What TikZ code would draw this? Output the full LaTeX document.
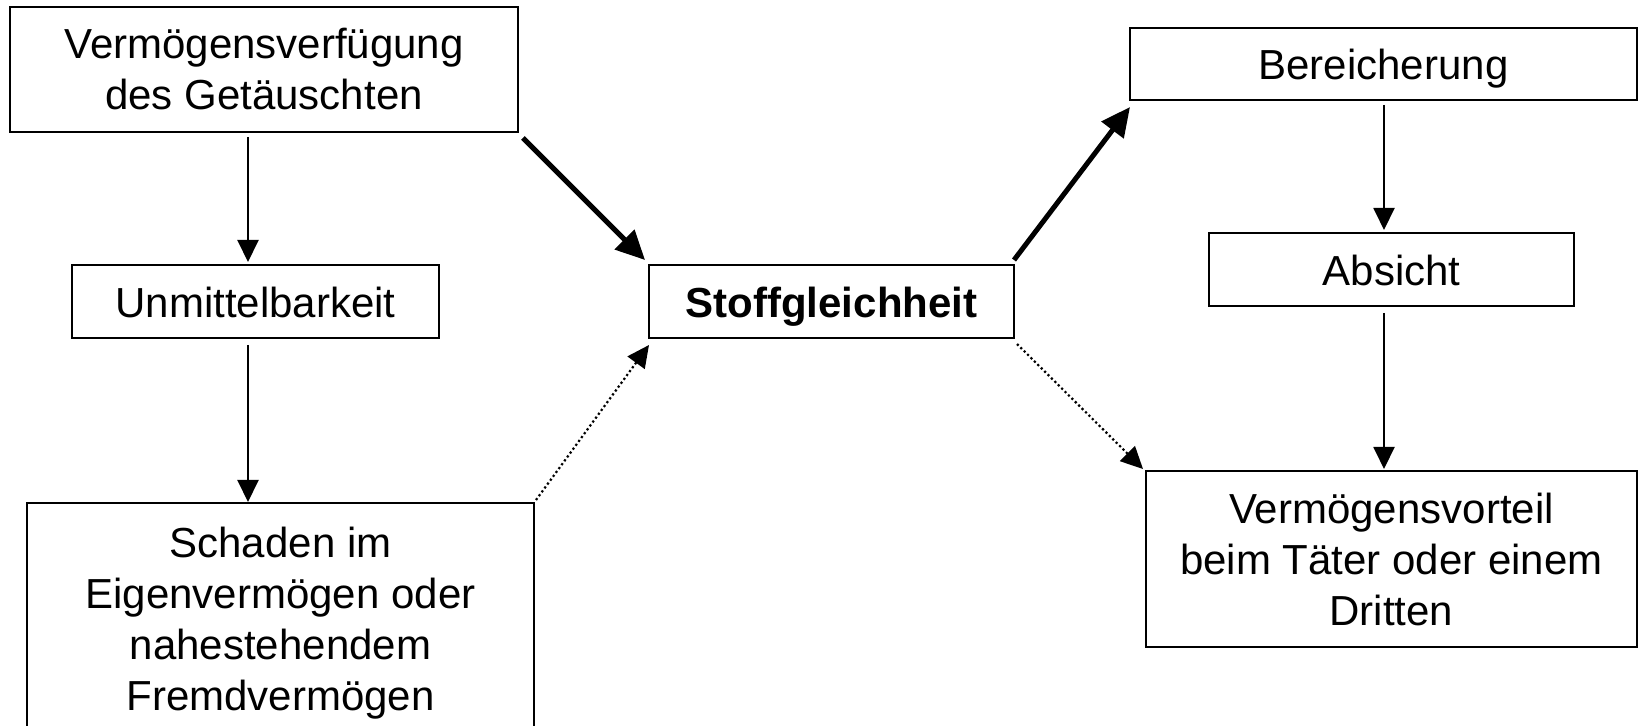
\documentclass[tikz,border=0pt]{standalone}
\usepackage{fontspec}
\setmainfont{Liberation Sans}
\usetikzlibrary{arrows.meta}

\tikzset{
  box/.style={draw, rectangle, line width=1pt, inner sep=0pt, outer sep=0pt,
    align=center, font=\fontsize{21}{25.5}\selectfont},
  oneline/.style={box, text height=20pt, text depth=4pt},
  thinarr/.style={line width=1pt, -{Triangle[length=11pt,width=10.5pt]}},
  thickarr/.style={line width=2.5pt, -{Triangle[length=14.5pt,width=13.5pt]}},
  dotarr/.style={line width=1.1pt, dash pattern=on 1.1pt off 1.3pt,
    -{Triangle[length=11pt,width=10.5pt]}},
}

\begin{document}
\begin{tikzpicture}[x=0.5pt, y=-0.5pt]
  \clip (0,0) rectangle (1639,726);

  % left column
  \node[box, minimum width=254pt, minimum height=62.5pt] (b1) at (264,69.5)
    {Vermögensverfügung\\des Getäuschten};
  \node[oneline, minimum width=183.5pt, minimum height=36.5pt] (un) at (255.5,301.5)
    {Unmittelbarkeit};
  \node[box, minimum width=253.5pt, minimum height=120pt] (sch) at (280.5,623)
    {Schaden im\\Eigenvermögen oder\\nahestehendem\\Fremdvermögen};

  % centre
  \node[oneline, minimum width=182.5pt, minimum height=36.5pt] (st) at (831.5,301.5)
    {\bfseries Stoffgleichheit};

  % right column
  \node[oneline, minimum width=253.5pt, minimum height=36pt] (ber) at (1383.5,64)
    {Bereicherung};
  \node[oneline, minimum width=182.5pt, minimum height=36.5pt] (ab) at (1391.5,269.5)
    {Absicht};
  \node[box, minimum width=245.5pt, minimum height=88pt] (vt) at (1391.5,559)
    {Vermögensvorteil\\beim Täter oder einem\\Dritten};

  % column lines for the vertical connectors
  \coordinate (cl) at (248,0);
  \coordinate (cr) at (1384,0);

  \draw[thinarr, shorten <=2.5pt, shorten >=1.5pt] (b1.south -| cl) -- (un.north -| cl);
  \draw[thinarr, shorten <=3.5pt, shorten >=0.5pt] (un.south -| cl) -- (sch.north -| cl);
  \draw[thinarr, shorten <=2.5pt, shorten >=1.5pt] (ber.south -| cr) -- (ab.north -| cr);
  \draw[thinarr, shorten <=3.5pt, shorten >=1pt] (ab.south -| cr) -- (vt.north -| cr);

  % diagonal connectors through the centre box
  \draw[thickarr] ([shift={(5,6)}]b1.south east) -- ([shift={(-4,-5)}]st.north west);
  \draw[thickarr] ([shift={(0,-5)}]st.north east) -- ([shift={(0,7)}]ber.south west);
  \draw[dotarr] ([shift={(2,-3)}]sch.north east) -- ([shift={(0,7)}]st.south west);
  \draw[dotarr] ([shift={(3,6)}]st.south east) -- ([shift={(-3,-2)}]vt.north west);
\end{tikzpicture}
\end{document}
